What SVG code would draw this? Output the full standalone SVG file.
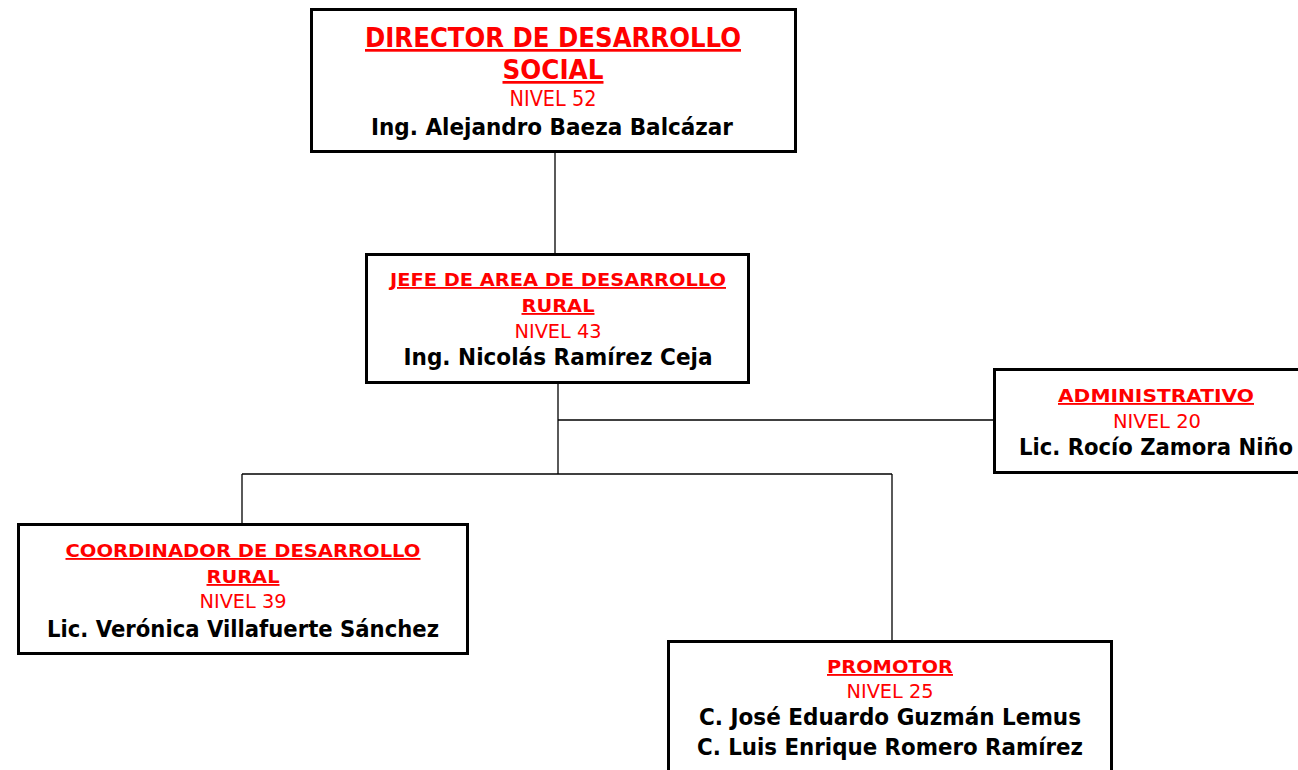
<svg xmlns="http://www.w3.org/2000/svg" width="1298" height="770" viewBox="0 0 1298 770">
<style>
.box{fill:#fff;stroke:#000;stroke-width:3}
.ln{stroke:#000;stroke-width:1.3;fill:none}
text{font-family:"DejaVu Sans","Liberation Sans",sans-serif;text-anchor:middle}
.h{fill:#ff0000;font-weight:bold;text-decoration:underline}
.n{fill:#ff0000}
.p{fill:#000;font-weight:bold}
</style>
<rect width="1298" height="770" fill="#fff"/>
<g id="connectors">
<line class="ln" x1="555" y1="151" x2="555" y2="254"/>
<line class="ln" x1="558" y1="383" x2="558" y2="474"/>
<line class="ln" x1="558" y1="420" x2="994" y2="420"/>
<line class="ln" x1="242" y1="474" x2="892" y2="474"/>
<line class="ln" x1="242" y1="474" x2="242" y2="524"/>
<line class="ln" x1="892" y1="474" x2="892" y2="641"/>
</g>
<g id="director">
<rect class="box" x="311.5" y="9.5" width="484" height="142"/>
<text class="h" x="553" y="47" font-size="27" textLength="376" lengthAdjust="spacingAndGlyphs">DIRECTOR DE DESARROLLO</text>
<text class="h" x="553" y="79" font-size="27" textLength="101" lengthAdjust="spacingAndGlyphs">SOCIAL</text>
<text class="n" x="553" y="106" font-size="21.5" textLength="87" lengthAdjust="spacingAndGlyphs">NIVEL 52</text>
<text class="p" x="552" y="135" font-size="23" textLength="362" lengthAdjust="spacingAndGlyphs">Ing. Alejandro Baeza Balcázar</text>
</g>
<g id="jefe">
<rect class="box" x="366.5" y="254.5" width="382" height="128"/>
<text class="h" x="558" y="286" font-size="18.5" textLength="336" lengthAdjust="spacingAndGlyphs">JEFE DE AREA DE DESARROLLO</text>
<text class="h" x="558" y="312" font-size="18.5" textLength="73" lengthAdjust="spacingAndGlyphs">RURAL</text>
<text class="n" x="558" y="338" font-size="19.5" textLength="87" lengthAdjust="spacingAndGlyphs">NIVEL 43</text>
<text class="p" x="558" y="365" font-size="23" textLength="309" lengthAdjust="spacingAndGlyphs">Ing. Nicolás Ramírez Ceja</text>
</g>
<g id="administrativo">
<rect class="box" x="994.5" y="369.5" width="326" height="103"/>
<text class="h" x="1156" y="402" font-size="18.5" textLength="196" lengthAdjust="spacingAndGlyphs">ADMINISTRATIVO</text>
<text class="n" x="1157" y="428" font-size="19.5" textLength="88" lengthAdjust="spacingAndGlyphs">NIVEL 20</text>
<text class="p" x="1156" y="455" font-size="23" textLength="274" lengthAdjust="spacingAndGlyphs">Lic. Rocío Zamora Niño</text>
</g>
<g id="coordinador">
<rect class="box" x="18.5" y="524.5" width="449" height="129"/>
<text class="h" x="243" y="557" font-size="18.5" textLength="355" lengthAdjust="spacingAndGlyphs">COORDINADOR DE DESARROLLO</text>
<text class="h" x="243" y="583" font-size="18.5" textLength="73" lengthAdjust="spacingAndGlyphs">RURAL</text>
<text class="n" x="243" y="608" font-size="19.5" textLength="87" lengthAdjust="spacingAndGlyphs">NIVEL 39</text>
<text class="p" x="243" y="637" font-size="23" textLength="392" lengthAdjust="spacingAndGlyphs">Lic. Verónica Villafuerte Sánchez</text>
</g>
<g id="promotor">
<rect class="box" x="668.5" y="641.5" width="443" height="150"/>
<text class="h" x="890" y="673" font-size="18.5" textLength="126" lengthAdjust="spacingAndGlyphs">PROMOTOR</text>
<text class="n" x="890" y="698" font-size="19.5" textLength="87" lengthAdjust="spacingAndGlyphs">NIVEL 25</text>
<text class="p" x="890" y="725" font-size="23" textLength="382" lengthAdjust="spacingAndGlyphs">C. José Eduardo Guzmán Lemus</text>
<text class="p" x="890" y="755" font-size="23" textLength="386" lengthAdjust="spacingAndGlyphs">C. Luis Enrique Romero Ramírez</text>
</g>
</svg>
